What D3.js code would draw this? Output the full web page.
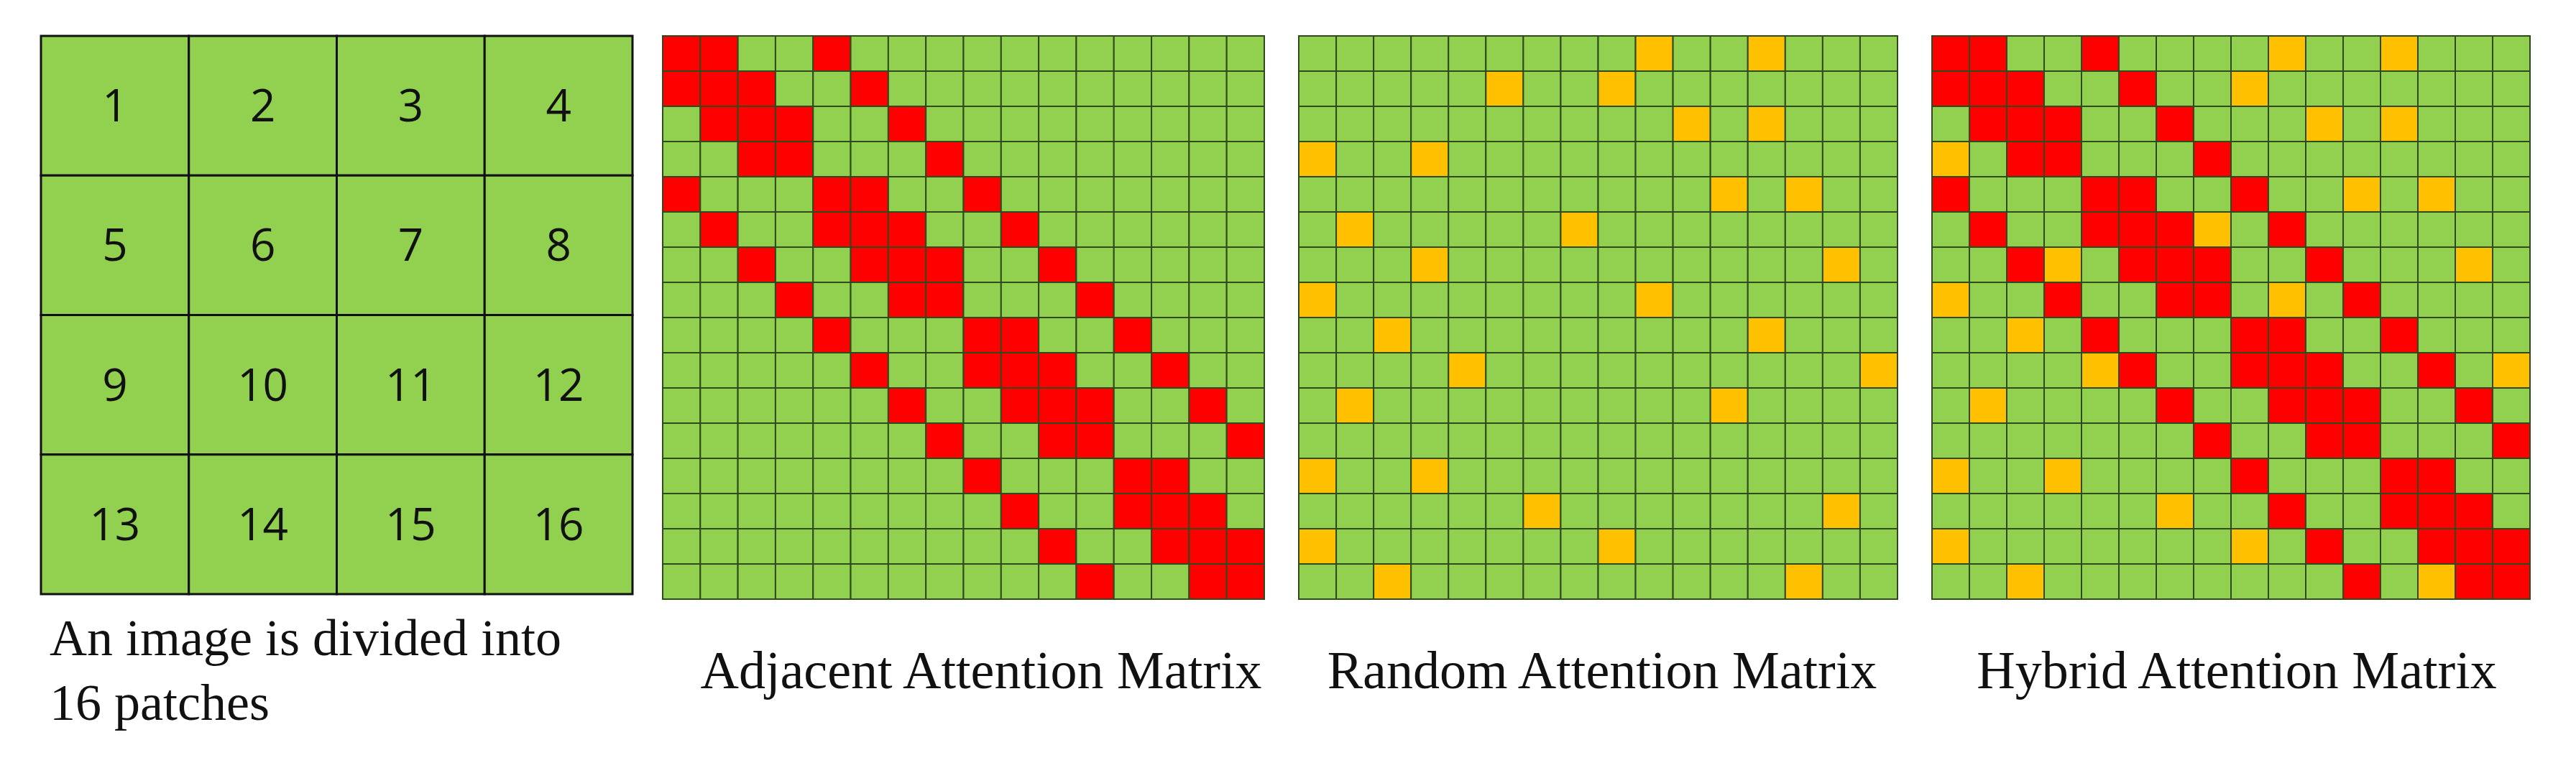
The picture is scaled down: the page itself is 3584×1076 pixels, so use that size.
<!DOCTYPE html>
<html>
<head>
<meta charset="utf-8">
<script src="https://cdn.jsdelivr.net/npm/d3@7"></script>
<style>
  body { margin: 0; background: #fff; }
  .cap, .cap tspan { font-family: 'Liberation Serif', 'Times New Roman', serif; }
</style>
</head>
<body>
<svg id="chart" width="3584" height="1076"></svg>
<script>
const patches = d3.range(1, 17);

// red cells per row (adjacent attention)
const adjacentRows = [
  [0, 1, 4], [0, 1, 2, 5], [1, 2, 3, 6], [2, 3, 7],
  [0, 4, 5, 8], [1, 4, 5, 6, 9], [2, 5, 6, 7, 10], [3, 6, 7, 11],
  [4, 8, 9, 12], [5, 8, 9, 10, 13], [6, 9, 10, 11, 14], [7, 10, 11, 15],
  [8, 12, 13], [9, 12, 13, 14], [10, 13, 14, 15], [11, 14, 15],
];

// orange cells per row (random attention)
const randomRows = [
  [9, 12], [5, 8], [10, 12], [0, 3],
  [11, 13], [1, 7], [3, 14], [0, 9],
  [2, 12], [4, 15], [1, 11], [],
  [0, 3], [6, 14], [0, 8], [2, 13],
];

const captions = [
  ['An image is divided into', '16 patches'],
  ['Adjacent Attention Matrix'],
  ['Random Attention Matrix'],
  ['Hybrid Attention Matrix'],
];

const GREEN = '#92d050';
const RED = '#ff0000';
const ORANGE = '#ffc000';

const svg = d3.select('#chart');

// patch grid
const px = d3.scaleBand().domain(d3.range(4)).range([57, 880]);
const py = d3.scaleBand().domain(d3.range(4)).range([50, 827]);
const $patch = svg.append('g');
$patch.selectAll('rect')
  .data(patches)
  .join('rect')
  .attr('x', d => px((d - 1) % 4))
  .attr('y', d => py(Math.floor((d - 1) / 4)))
  .attr('width', px.bandwidth())
  .attr('height', py.bandwidth())
  .attr('fill', GREEN)
  .attr('stroke', '#111')
  .attr('stroke-width', 3);
$patch.selectAll('text')
  .data(patches)
  .join('text')
  .attr('x', d => px((d - 1) % 4) + px.bandwidth() / 2)
  .attr('y', d => py(Math.floor((d - 1) / 4)) + py.bandwidth() / 2 + 22)
  .attr('text-anchor', 'middle')
  .attr('font-family', 'Open Sans, sans-serif')
  .attr('font-size', 62)
  .attr('fill', '#111')
  .text(d => d);

function cellsFor(kind) {
  const cells = [];
  for (let r = 0; r < 16; r++) {
    for (let c = 0; c < 16; c++) {
      const adj = adjacentRows[r].includes(c);
      const rnd = randomRows[r].includes(c);
      let fill = GREEN;
      if (kind === 'adjacent' && adj) fill = RED;
      if (kind === 'random' && rnd) fill = ORANGE;
      if (kind === 'hybrid') fill = adj ? RED : rnd ? ORANGE : GREEN;
      cells.push({ r, c, fill });
    }
  }
  return cells;
}

function drawMatrix(kind, x0, x1) {
  const x = d3.scaleBand().domain(d3.range(16)).range([x0, x1]);
  const y = d3.scaleBand().domain(d3.range(16)).range([50, 834]);
  const g = svg.append('g');
  g.selectAll('rect')
    .data(cellsFor(kind))
    .join('rect')
    .attr('x', d => x(d.c))
    .attr('y', d => y(d.r))
    .attr('width', x.bandwidth())
    .attr('height', y.bandwidth())
    .attr('fill', d => d.fill)
    .attr('stroke', '#2f4a1c')
    .attr('stroke-width', 2);
}

drawMatrix('adjacent', 922, 1759);
drawMatrix('random', 1807, 2640);
drawMatrix('hybrid', 2688, 3520);

// captions
const capPos = [
  { x: 69, y: 912, anchor: 'start', size: 72 },
  { x: 1365, y: 958, anchor: 'middle', size: 74 },
  { x: 2229, y: 958, anchor: 'middle', size: 74 },
  { x: 3112, y: 958, anchor: 'middle', size: 74 },
];
captions.forEach((lines, i) => {
  const p = capPos[i];
  const t = svg.append('text')
    .attr('class', 'cap')
    .attr('x', p.x)
    .attr('y', p.y)
    .attr('text-anchor', p.anchor)
    .attr('font-size', p.size)
    .attr('fill', '#111');
  lines.forEach((l, j) => {
    t.append('tspan').attr('x', p.x).attr('dy', j ? 90 : 0).text(l);
  });
});
</script>
</body>
</html>
